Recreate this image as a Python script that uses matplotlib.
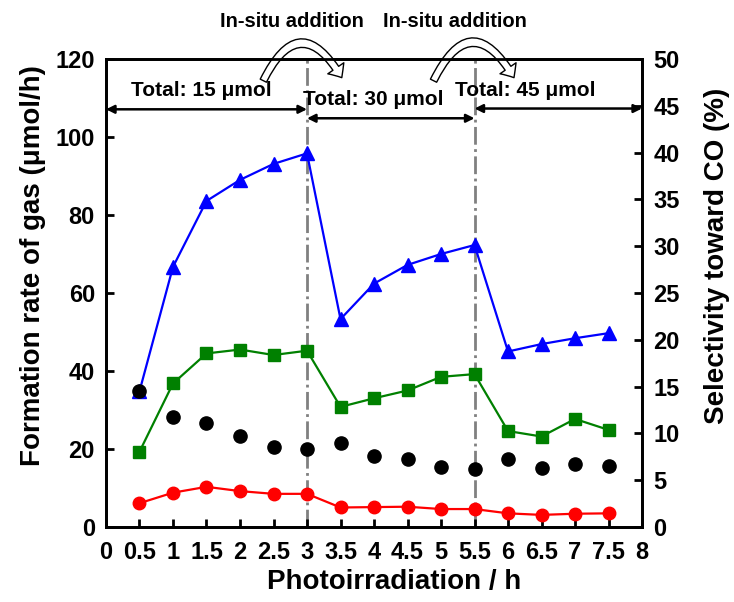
import matplotlib
matplotlib.use("Agg")
import matplotlib.pyplot as plt
from matplotlib.patches import FancyArrowPatch

plt.rcParams['font.family'] = ['Liberation Sans', 'DejaVu Sans']
plt.rcParams['font.weight'] = 'bold'

# photoirradiation time (h)
hours = [0.5, 1, 1.5, 2, 2.5, 3, 3.5, 4, 4.5, 5, 5.5, 6, 6.5, 7, 7.5]

# formation rates (umol/h)
blue_rate = [34.8, 66.7, 83.6, 89, 93.1, 95.8, 53.3, 62.4, 67.2, 70, 72.3, 45, 46.9, 48.4, 49.7]
green_rate = [19.3, 36.8, 44.5, 45.5, 44.1, 45.2, 30.8, 33, 35, 38.5, 39.2, 24.6, 23.2, 27.7, 24.9]
red_rate = [6.1, 8.8, 10.3, 9.2, 8.5, 8.5, 5.0, 5.1, 5.2, 4.6, 4.6, 3.5, 3.1, 3.4, 3.5]

# selectivity toward CO (%)
co_select = [14.5, 11.8, 11.1, 9.7, 8.5, 8.3, 9.0, 7.6, 7.3, 6.4, 6.2, 7.3, 6.3, 6.7, 6.5]

xticks = [0, 0.5, 1, 1.5, 2, 2.5, 3, 3.5, 4, 4.5, 5, 5.5, 6, 6.5, 7, 7.5, 8]
xtick_labels = ['0', '0.5', '1', '1.5', '2', '2.5', '3', '3.5', '4', '4.5', '5', '5.5', '6', '6.5', '7', '7.5', '8']
additions = [3, 5.5]

fig = plt.figure(figsize=(7.34, 6.02), dpi=100)
ax = fig.add_axes([0.1444, 0.1246, 0.7303, 0.7774])
ax2 = ax.twinx()

ax.plot(hours, blue_rate, color='blue', marker='^', ms=9.5, lw=1.6)
ax.plot(hours, green_rate, color='green', marker='s', ms=9, lw=1.6)
ax.plot(hours, red_rate, color='red', marker='o', ms=9, lw=1.6)
ax2.plot(hours, co_select, color='black', marker='o', ms=9.5, ls='none')

for x in additions:
    ax.axvline(x, color='grey', ls='-.', lw=2, zorder=0)

ax.set_xlim(0, 8)
ax.set_ylim(0, 120)
ax2.set_ylim(0, 50)
ax.set_xticks(xticks)
ax.set_xticklabels(xtick_labels)
ax.set_yticks(range(0, 121, 20))
ax2.set_yticks(range(0, 51, 5))

ax.tick_params(axis='both', direction='in', length=6, width=2, labelsize=17, pad=10)
ax.tick_params(axis='y', pad=8)
ax2.tick_params(axis='y', direction='in', length=6, width=2, labelsize=17, pad=8)
for a in (ax, ax2):
    for s in a.spines.values():
        s.set_linewidth(2)

ax.set_xlabel('Photoirradiation / h', fontsize=20, fontweight='bold')
ax.set_ylabel('Formation rate of gas (μmol/h)', fontsize=20, fontweight='bold')
ax2.set_ylabel('Selectivity toward CO (%)', fontsize=20, fontweight='bold')
ax.xaxis.set_label_coords(0.537, -0.09, transform=ax.transAxes)
ax.yaxis.set_label_coords(-0.137, 0.558, transform=ax.transAxes)
ax2.yaxis.set_label_coords(1.14, 0.58, transform=ax.transAxes)
ax.xaxis.label.set_va('top')
ax.yaxis.label.set_va('center')
ax2.yaxis.label.set_va('center')

# amount of reactant in each period
arrow_kw = dict(arrowstyle='<|-|>', color='black', lw=1.8, shrinkA=0, shrinkB=0,
                mutation_scale=12)
ax.annotate('', xy=(0, 107.1), xytext=(3, 107.1), arrowprops=arrow_kw)
ax.annotate('', xy=(3, 104.8), xytext=(5.5, 104.8), arrowprops=arrow_kw)
ax.annotate('', xy=(5.5, 107.3), xytext=(8, 107.3), arrowprops=arrow_kw, annotation_clip=False)
ax.text(1.43, 112, 'Total: 15 μmol', fontsize=15, ha='center', va='center')
ax.text(3.99, 109.5, 'Total: 30 μmol', fontsize=15, ha='center', va='center')
ax.text(6.26, 112, 'Total: 45 μmol', fontsize=15, ha='center', va='center')

# in-situ addition markers
for x0, x1, tx in [(2.33, 3.54, 2.78), (4.87, 6.11, 5.21)]:
    arc = FancyArrowPatch((x0, 113.8), (x1, 114.6), connectionstyle='arc3,rad=-0.95',
                          arrowstyle='simple,head_width=14,head_length=8,tail_width=5',
                          fc='white', ec='black', lw=1, clip_on=False, zorder=5)
    ax.add_patch(arc)
    ax.text(tx, 129.5, 'In-situ addition', fontsize=14.5, ha='center', va='center', clip_on=False)

fig.savefig('out.png', dpi=100)
